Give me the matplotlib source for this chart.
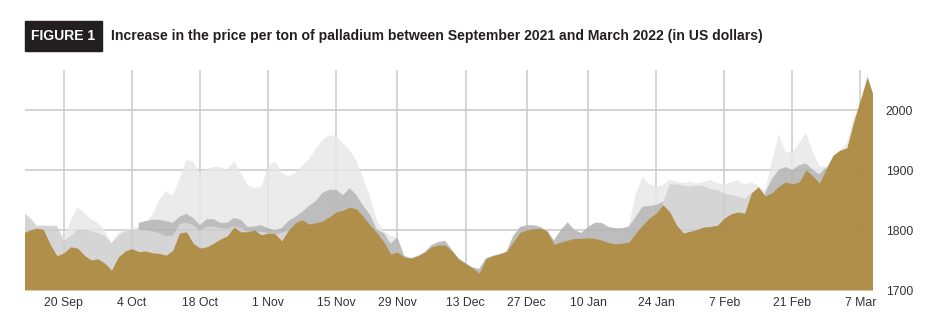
import numpy as np
import matplotlib
matplotlib.use("Agg")
import matplotlib.pyplot as plt
from matplotlib.patches import Rectangle

# trading-day index, one value per day
n_days = 126

gold = [1795, 1800, 1803, 1801, 1776, 1757, 1762, 1772, 1770, 1758,
        1750, 1752, 1745, 1733, 1755, 1765, 1769, 1764, 1765, 1762,
        1761, 1758, 1766, 1795, 1797, 1778, 1770, 1772, 1778, 1785,
        1790, 1805, 1797, 1797, 1800, 1792, 1795, 1794, 1782, 1800,
        1812, 1817, 1810, 1812, 1815, 1822, 1830, 1833, 1838, 1835,
        1822, 1808, 1795, 1780, 1760, 1763, 1755, 1753, 1757, 1763,
        1772, 1775, 1775, 1765, 1752, 1744, 1737, 1728, 1752, 1757,
        1760, 1764, 1780, 1796, 1800, 1802, 1803, 1798, 1776, 1780,
        1783, 1786, 1786, 1787, 1786, 1783, 1779, 1777, 1778, 1780,
        1795, 1808, 1820, 1828, 1842, 1830, 1808, 1795, 1798, 1801,
        1805, 1806, 1808, 1820, 1827, 1830, 1828, 1862, 1872, 1857,
        1862, 1873, 1880, 1877, 1880, 1900, 1890, 1878, 1903, 1925,
        1933, 1937, 1980, 2018, 2055, 2020]

# medium grey series (None = hidden behind gold)
medium = [1830, 1820, 1807, 1807, 1807, 1807, 1782, 1790, 1800, 1800,
          1798, 1795, 1790, 1778, 1790, 1798, 1800, 1800, 1800, 1798,
          1795, 1790, 1790, 1810, 1812, 1808, 1800, 1805, 1806, 1803,
          1802, 1806, 1803, 1797, 1797, 1797, 1795, 1793, 1795, 1800,
          1808] + [None] * 53 + \
         [1845, 1876, 1876, 1874, 1872, 1874, 1873, 1868, 1867, 1861,
          1858, 1856, 1852, 1862, 1865, 1857] + [None] * 16

# dark grey series
dark = [None] * 17 + \
       [1812, 1815, 1817, 1817, 1815, 1812, 1822, 1827, 1820, 1808,
        1818, 1818, 1812, 1812, 1820, 1817, 1805, 1806, 1808, 1803,
        1800, 1803, 1815, 1822, 1830, 1840, 1848, 1862, 1867, 1867,
        1858, 1870, 1858, 1840, 1825, 1800, 1795, 1777, 1788, 1757,
        1753, 1757, 1763, 1775, 1780, 1782, 1767, 1752, 1745, 1738,
        1735, 1753, 1757, 1760, 1764, 1790, 1805, 1808, 1808, 1805,
        1798, 1783, 1800, 1813, 1800, 1795, 1805, 1812, 1812, 1805,
        1803, 1803, 1806, 1822, 1839, 1840, 1842, 1847] + [None] * 14 + \
       [1862, 1885, 1900, 1905, 1900, 1908, 1911, 1900, 1893, 1905] + [None] * 7

# light grey series
light = [1828, 1822, 1807, 1807, 1807, 1807, 1786, 1815, 1838, 1828,
         1818, 1812, 1800, 1778, 1795, 1800, 1803, 1805, 1811, 1825,
         1850, 1865, 1857, 1885, 1917, 1914, 1894, 1902, 1905, 1905,
         1900, 1915, 1895, 1875, 1870, 1872, 1905, 1915, 1895, 1890,
         1895, 1907, 1918, 1935, 1950, 1958, 1955, 1945, 1933, 1915,
         1885, 1855, 1815, 1798, 1790, 1788] + [None] * 33 + \
        [1806, 1860, 1888, 1877, 1872, 1875, 1884, 1880, 1878, 1880,
         1878, 1880, 1883, 1878, 1876, 1880, 1883, 1876, 1880, 1873,
         1866, 1914, 1960, 1930, 1930, 1945, 1962, 1930, 1906, 1905,
         1922, 1933, 1944, 1990, 2003, 2060, 2020]

tick_pos = [6, 16, 26, 36, 46, 55, 65, 74, 83, 93, 103, 113, 123]
tick_labels = ["20 Sep", "4 Oct", "18 Oct", "1 Nov", "15 Nov", "29 Nov", "13 Dec",
               "27 Dec", "10 Jan", "24 Jan", "7 Feb", "21 Feb", "7 Mar"]
y_ticks = [1700, 1800, 1900, 2000]


def to_arr(vals):
    return np.array([np.nan if v is None else v for v in vals], dtype=float)


plt.rcParams['font.family'] = ['Liberation Sans', 'DejaVu Sans']

W, H = 950, 328
fig = plt.figure(figsize=(W / 100, H / 100), dpi=100)
ax = fig.add_axes([25 / W, 1 - 290 / H, (872 - 25) / W, 220 / H])

x = np.arange(n_days)
base = 1700

# grid behind the areas
for t in tick_pos:
    ax.axvline(t, color="#d9d9d9", lw=1.3, zorder=0)
for yv in y_ticks[1:]:
    ax.axhline(yv, color="#d9d9d9", lw=1.3, zorder=0)

ax.fill_between(x, base, to_arr(light), color="#ebebeb", lw=0, zorder=1)
ax.fill_between(x, base, to_arr(dark), color="#bdbdbd", lw=0, zorder=2)
ax.fill_between(x, base, to_arr(medium), color="#d5d5d5", lw=0, zorder=3)
ax.fill_between(x, base, to_arr(gold), color="#b08f4b", lw=0, zorder=4)

# faint grid showing through the areas
for t in tick_pos:
    ax.axvline(t, color="#777777", lw=1.3, alpha=0.06, zorder=5)
for yv in y_ticks[1:]:
    ax.axhline(yv, color="#777777", lw=1.3, alpha=0.08, zorder=5)

ax.set_xlim(0.3, 124.7)
ax.set_ylim(1700, 2066.7)
ax.set_xticks(tick_pos)
ax.set_xticklabels(tick_labels)
ax.set_yticks(y_ticks)
ax.yaxis.tick_right()
ax.tick_params(axis="x", length=0, pad=5, labelsize=8.8, labelcolor="#333333")
ax.tick_params(axis="y", length=0, pad=10, labelsize=8.8, labelcolor="#333333")
for s in ax.spines.values():
    s.set_visible(False)

# header
fig.patches.append(Rectangle((25 / W, 1 - 51 / H), 77 / W, 30 / H,
                             transform=fig.transFigure, color="#231f20", zorder=0))
fig.text(63.5 / W, 1 - 36 / H, "FIGURE 1", color="white", fontsize=10,
         fontweight="bold", ha="center", va="center")
title = fig.text(111 / W, 1 - 36 / H,
                 "Increase in the price per ton of palladium between September 2021 and March 2022 (in US dollars)",
                 color="#231f20", fontsize=9.5, fontweight="bold", ha="left", va="center")

# fit title width to the header
fig.canvas.draw()
w = title.get_window_extent().width
title.set_fontsize(9.5 * 652 / w)

fig.savefig("out.png", dpi=100)
